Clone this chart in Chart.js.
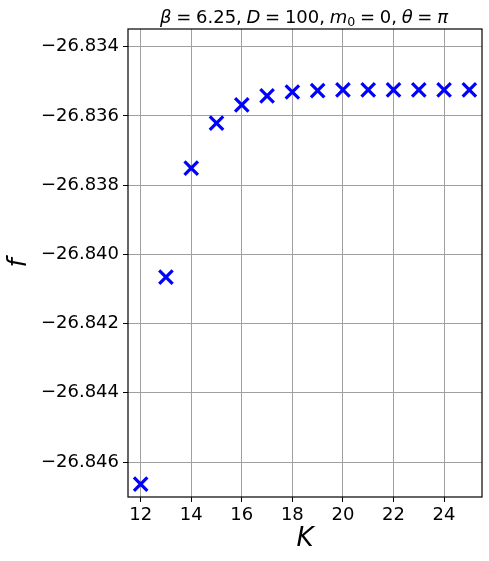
<!DOCTYPE html>
<html>
<head>
<meta charset="utf-8">
<script src="https://cdn.jsdelivr.net/npm/chart.js@4/dist/chart.umd.min.js"></script>
<style>
  body { margin: 0; background: #fff; }
  canvas { display: block; }
</style>
</head>
<body>
<canvas id="scanK" width="489" height="561"></canvas>
<script>
// bond dimension K and free energy f
const kValues = [12, 13, 14, 15, 16, 17, 18, 19, 20, 21, 22, 23, 24, 25];
const fValues = [-26.84664, -26.84066, -26.83751, -26.83621, -26.83568, -26.83542, -26.83531,
                 -26.83527, -26.83525, -26.83525, -26.83525, -26.83525, -26.83525, -26.83525];
const xTicks = [12, 14, 16, 18, 20, 22, 24];
const yTicks = [-26.834, -26.836, -26.838, -26.840, -26.842, -26.844, -26.846];

const FONT = "'DejaVu Sans', sans-serif";

// frame + title + axis labels, drawn like the matplotlib figure
const extras = {
  id: 'extras',
  afterDraw(chart) {
    const ctx = chart.ctx;
    const a = chart.chartArea;
    ctx.save();
    ctx.strokeStyle = '#000';
    ctx.lineWidth = 1.2;
    ctx.strokeRect(a.left, a.top, a.right - a.left, a.bottom - a.top);

    // title with math italics, gaps between pieces like mathtext
    const parts = [
      ['β', 'italic'], ['=', ''], ['6.25,', ''], ['D', 'italic'], ['=', ''], ['100,', ''],
      ['m', 'italic', 1], ['0', 'sub'], ['=', ''], ['0,', ''], ['θ', 'italic'], ['=', ''], ['π', 'italic']
    ];
    const size = 18;
    const fontOf = (s) => s === 'italic' ? 'italic ' + size + 'px ' + FONT
      : s === 'sub' ? (size * 0.7) + 'px ' + FONT : size + 'px ' + FONT;
    let textW = 0;
    parts.forEach(p => { ctx.font = fontOf(p[1]); textW += ctx.measureText(p[0]).width; });
    const nGaps = parts.length - 1 - 1; // no gap between m and its subscript
    const gap = (288 - textW) / nGaps;
    let x = 160;
    const y = 23;
    ctx.fillStyle = '#000';
    ctx.textBaseline = 'alphabetic';
    ctx.textAlign = 'left';
    parts.forEach(p => {
      ctx.font = fontOf(p[1]);
      ctx.fillText(p[0], x, p[1] === 'sub' ? y + 3 : y);
      x += ctx.measureText(p[0]).width + (p[2] ? 0 : gap);
    });

    ctx.font = 'italic 26px ' + FONT;
    ctx.textAlign = 'center';
    ctx.textBaseline = 'middle';
    ctx.fillText('K', (a.left + a.right) / 2, 539);

    ctx.translate(19, (a.top + a.bottom) / 2);
    ctx.rotate(-Math.PI / 2);
    ctx.fillText('f', 0, 0);
    ctx.restore();
  }
};

new Chart(document.getElementById('scanK'), {
  type: 'scatter',
  data: {
    datasets: [{
      data: kValues.map((k, i) => ({ x: k, y: fValues[i] })),
      pointStyle: 'crossRot',
      pointRadius: 9.5,
      pointHoverRadius: 9.5,
      borderColor: '#0000ff',
      backgroundColor: '#0000ff',
      borderWidth: 3.2
    }]
  },
  options: {
    responsive: false,
    animation: false,
    events: [],
    layout: { autoPadding: false, padding: { top: 29, right: 7, left: 0, bottom: 0 } },
    plugins: { legend: { display: false }, tooltip: { enabled: false } },
    scales: {
      x: {
        type: 'linear',
        min: 11.5,
        max: 25.5,
        afterBuildTicks: (s) => { s.ticks = xTicks.map(v => ({ value: v })); },
        afterFit: (s) => { s.height = 64; s.paddingLeft = 0; s.paddingRight = 0; },
        grid: { color: '#a0a0a0', lineWidth: 1, tickColor: '#000', tickLength: 5 },
        border: { display: false },
        ticks: { color: '#000', font: { family: FONT, size: 18 }, padding: 3, maxRotation: 0 }
      },
      y: {
        type: 'linear',
        min: -26.84701,
        max: -26.83349,
        afterBuildTicks: (s) => { s.ticks = yTicks.map(v => ({ value: v })); },
        afterFit: (s) => { s.width = 128; s.paddingTop = 0; s.paddingBottom = 0; },
        grid: { color: '#a0a0a0', lineWidth: 1, tickColor: '#000', tickLength: 5 },
        border: { display: false },
        ticks: {
          color: '#000', font: { family: FONT, size: 18 }, padding: 4,
          callback: (v) => '\u2212' + Math.abs(v).toFixed(3)
        }
      }
    }
  },
  plugins: [extras]
});
</script>
</body>
</html>
